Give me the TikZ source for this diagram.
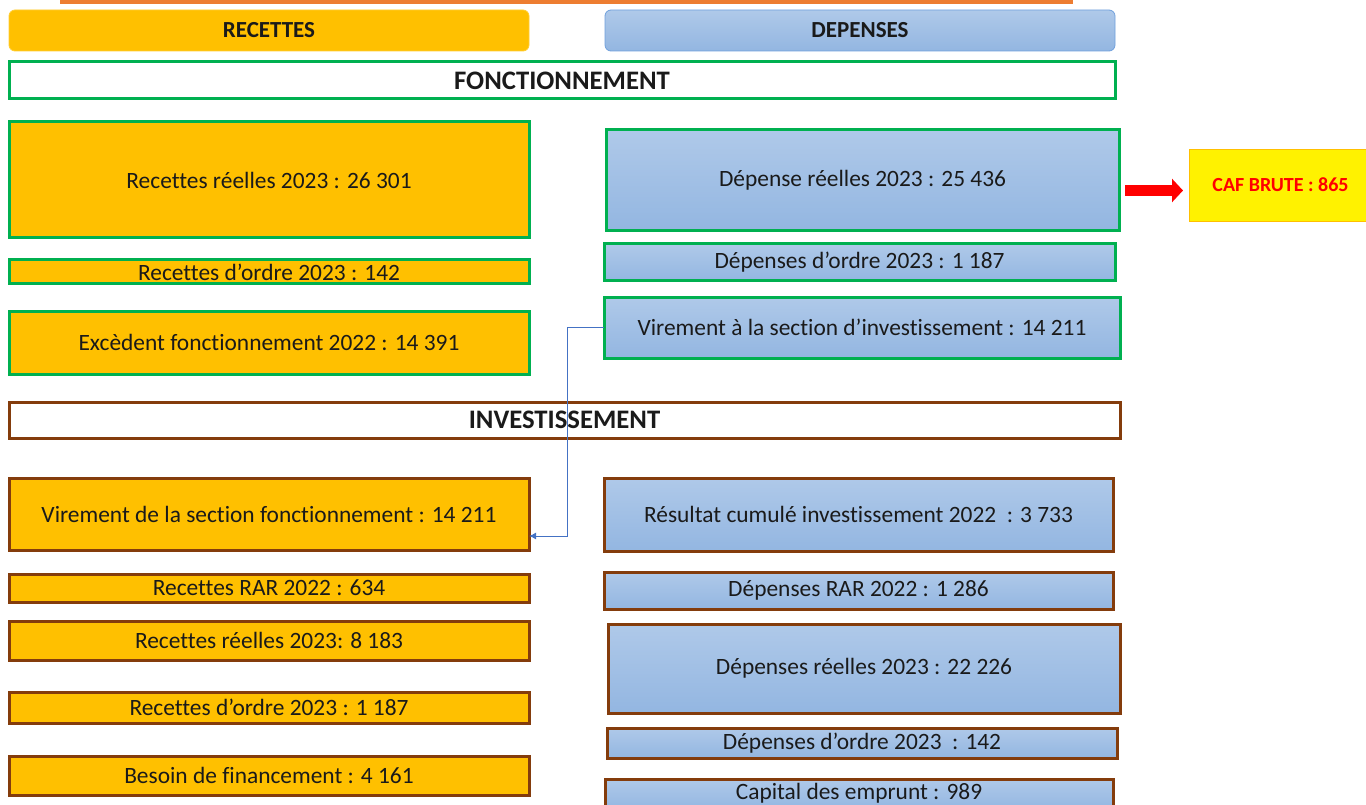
\documentclass[tikz,border=0pt]{standalone}
\usepackage{fontspec}
\setmainfont{Carlito}[Ligatures={NoCommon}]
\usetikzlibrary{arrows.meta,calc}
\definecolor{orfill}{HTML}{FFC000}
\definecolor{grn}{HTML}{00B050}
\definecolor{brn}{HTML}{843C0C}
\definecolor{bltop}{HTML}{AFC9E9}
\definecolor{blbot}{HTML}{93B6E1}
\definecolor{blline}{HTML}{6FA0DC}
\definecolor{orbar}{HTML}{ED7D31}
\definecolor{conn}{HTML}{4472C4}
\definecolor{txt}{HTML}{1A1A1A}
\tikzset{
  base/.style={rectangle, inner sep=0pt, outer sep=0pt, text=txt, font=\fontsize{23.4}{27}\selectfont},
  recF/.style={base, fill=orfill, draw=grn, line width=3pt},
  recI/.style={base, fill=orfill, draw=brn, line width=3pt},
  depF/.style={base, top color=bltop, bottom color=blbot, draw=grn, line width=3pt},
  depI/.style={base, top color=bltop, bottom color=blbot, draw=brn, line width=3pt},
  sectF/.style={base, fill=white, draw=grn, line width=3pt, font=\fontsize{26.7}{30}\selectfont\bfseries},
  sectI/.style={base, fill=white, draw=brn, line width=3pt, font=\fontsize{26.7}{30}\selectfont\bfseries},
  headR/.style={base, fill=orfill, draw=orfill!80!white, line width=0.8pt, rounded corners=6pt, font=\fontsize{23}{27}\selectfont\bfseries},
  headD/.style={base, top color=bltop, bottom color=blbot, draw=blline, line width=0.8pt, rounded corners=6pt, font=\fontsize{23}{27}\selectfont\bfseries},
  cafbox/.style={base, fill=yellow, draw=orfill, line width=0.8pt, text=red, font=\fontsize{20}{24}\selectfont\bfseries},
  connline/.style={draw=conn, line width=1pt, -{Latex[length=7pt,width=7pt]}},
  redarrow/.style={draw=red, line width=11pt, -{Triangle[length=11pt,width=23pt]}},
}
\newcommand\mybox[7]{%
  \node[#1, minimum width={(#5-#3)*1pt}, minimum height={(#6-#4)*1pt}] (#2) at ({(#3+#5)/2},{(#4+#6)/2}) {#7};}
\begin{document}
\begin{tikzpicture}[x=1pt,y=-1pt]
\useasboundingbox (0,0) rectangle (1366,805);
\fill[orbar] (60,0) rectangle (1073,4);
% headers
\mybox{headR}{hrec}{9}{10}{529}{51}{RECETTES}
\mybox{headD}{hdep}{605}{10}{1115}{51}{DEPENSES}
\mybox{sectF}{fonc}{9}{62}{1115}{99}{FONCTIONNEMENT}
% fonctionnement recettes
\mybox{recF}{rr}{9}{122}{529}{238}{Recettes réelles 2023 : 26 301}
\mybox{recF}{ro}{9}{260}{529}{284}{Recettes d’ordre 2023 : 142}
\mybox{recF}{exc}{9}{311}{529}{374}{Excèdent fonctionnement 2022 : 14 391}
% fonctionnement depenses
\mybox{depF}{dr}{606}{130}{1119}{231}{Dépense réelles 2023 : 25 436}
\mybox{depF}{dord}{604}{244}{1115}{281}{Dépenses d’ordre 2023 : 1 187}
\mybox{depF}{vir}{604}{297}{1120}{358}{Virement à la section d’investissement : 14 211}
\mybox{cafbox}{caf}{1189}{149}{1372}{221}{CAF BRUTE : 865}
% investissement
\mybox{sectI}{inv}{9}{402}{1120}{438}{INVESTISSEMENT}
\mybox{recI}{virf}{9}{478}{529}{550}{Virement de la section fonctionnement : 14 211}
\mybox{recI}{rrar}{9}{574}{529}{602}{Recettes RAR 2022 : 634}
\mybox{recI}{rr2}{9}{621}{529}{660}{Recettes réelles 2023: 8 183}
\mybox{recI}{ro2}{9}{692}{529}{723}{Recettes d’ordre 2023 : 1 187}
\mybox{recI}{bes}{9}{756}{529}{795}{Besoin de financement : 4 161}
\mybox{depI}{res}{604}{478}{1113}{551}{Résultat cumulé investissement 2022~ : 3 733}
\mybox{depI}{drar}{604}{572}{1113}{609}{Dépenses RAR 2022 : 1 286}
\mybox{depI}{dr2}{608}{624}{1120}{713}{Dépenses réelles 2023 : 22 226}
\mybox{depI}{do2}{607}{728}{1117}{758}{Dépenses d’ordre 2023~ : 142}
\mybox{depI}{cap}{605}{779}{1113}{810}{\raisebox{6pt}{Capital des emprunt : 989}}
% connectors
\draw[connline] (vir.west) -- ++(-37,0) |- ([yshift=-22pt]virf.east);
\draw[redarrow] ([xshift=6pt,yshift=-10pt]dr.east) -- ([xshift=-6pt,yshift=-5.5pt]caf.west);
\end{tikzpicture}
\end{document}
